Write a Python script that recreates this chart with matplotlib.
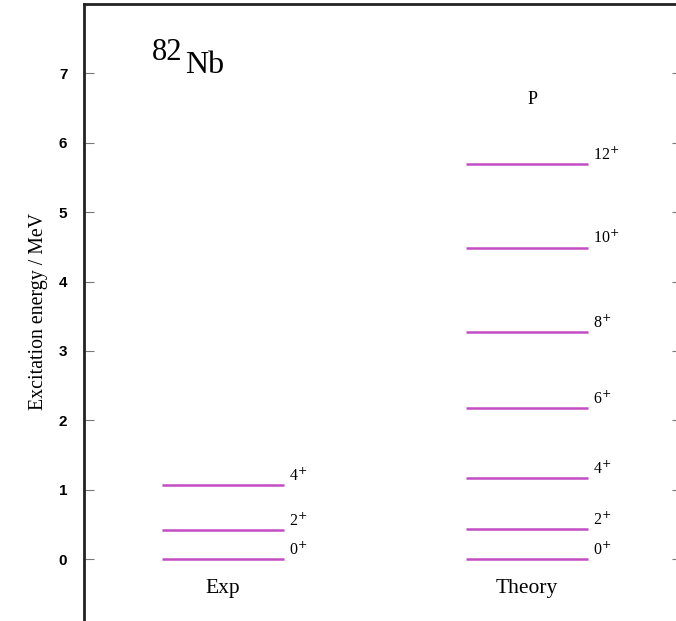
import matplotlib
matplotlib.use("Agg")
import matplotlib.pyplot as plt

# Level energies (MeV) and spin labels
exp_energies = [0.0, 0.42, 1.07]
exp_spins = ["0", "2", "4"]
theory_energies = [0.0, 0.43, 1.17, 2.18, 3.27, 4.49, 5.69]
theory_spins = ["0", "2", "4", "6", "8", "10", "12"]
column_names = ["Exp", "Theory"]
yticks = [0, 1, 2, 3, 4, 5, 6, 7]

fig = plt.figure(figsize=(6.76, 6.21), dpi=100)
ax = fig.add_axes([84 / 676, -0.02, 1 - 84 / 676, 1 - 4 / 621 + 0.02])
ax.set_xlim(0, 10)
ax.set_ylim(-1.072, 8.0)

level_color = "#c24cc4"
serif = ["Liberation Serif", "DejaVu Serif"]
centers = [2.35, 7.48]
half = 1.03

for cx, energies, spins, name in zip(
    centers, [exp_energies, theory_energies], [exp_spins, theory_spins], column_names
):
    for e, s in zip(energies, spins):
        ax.hlines(e, cx - half, cx + half, color=level_color, lw=1.8)
        ax.text(cx + half + 0.08, e + 0.06, s + r"$^{+}$", fontsize=11.5,
                family=serif, ha="left", va="baseline")
    ax.text(cx, -0.42, name, fontsize=15.5, family=serif, ha="center", va="center")

ax.text(centers[1] + 0.1, 6.62, "P", fontsize=13, family=serif, ha="center", va="center")

# Nucleus label
ax.text(1.15, 7.19, "82", fontsize=22, family=serif, ha="left", va="baseline")
ax.text(1.70, 7.00, "Nb", fontsize=23, family=serif, ha="left", va="baseline")

ax.set_yticks(yticks)
ax.set_yticklabels([str(t) for t in yticks], fontsize=11, fontweight="bold",
                   family=["Liberation Sans", "DejaVu Sans"])
ax.tick_params(axis="y", direction="in", length=7, width=0.8, color="#777777",
               pad=12, right=True, labelright=False)
for tk in ax.yaxis.get_major_ticks():
    tk.tick2line.set_color("#ececec")
    tk.tick2line.set_markersize(3)
ax.set_xticks([])

ax.set_ylabel("Excitation energy / MeV", fontsize=14.3, family=serif)
ax.yaxis.set_label_coords(-0.061, (633.4 - 311) / 629.4)

for side in ["left", "top"]:
    ax.spines[side].set_linewidth(2)
    ax.spines[side].set_color("#222222")
ax.spines["right"].set_visible(False)
ax.spines["bottom"].set_visible(False)

fig.savefig("out.png", dpi=100)
